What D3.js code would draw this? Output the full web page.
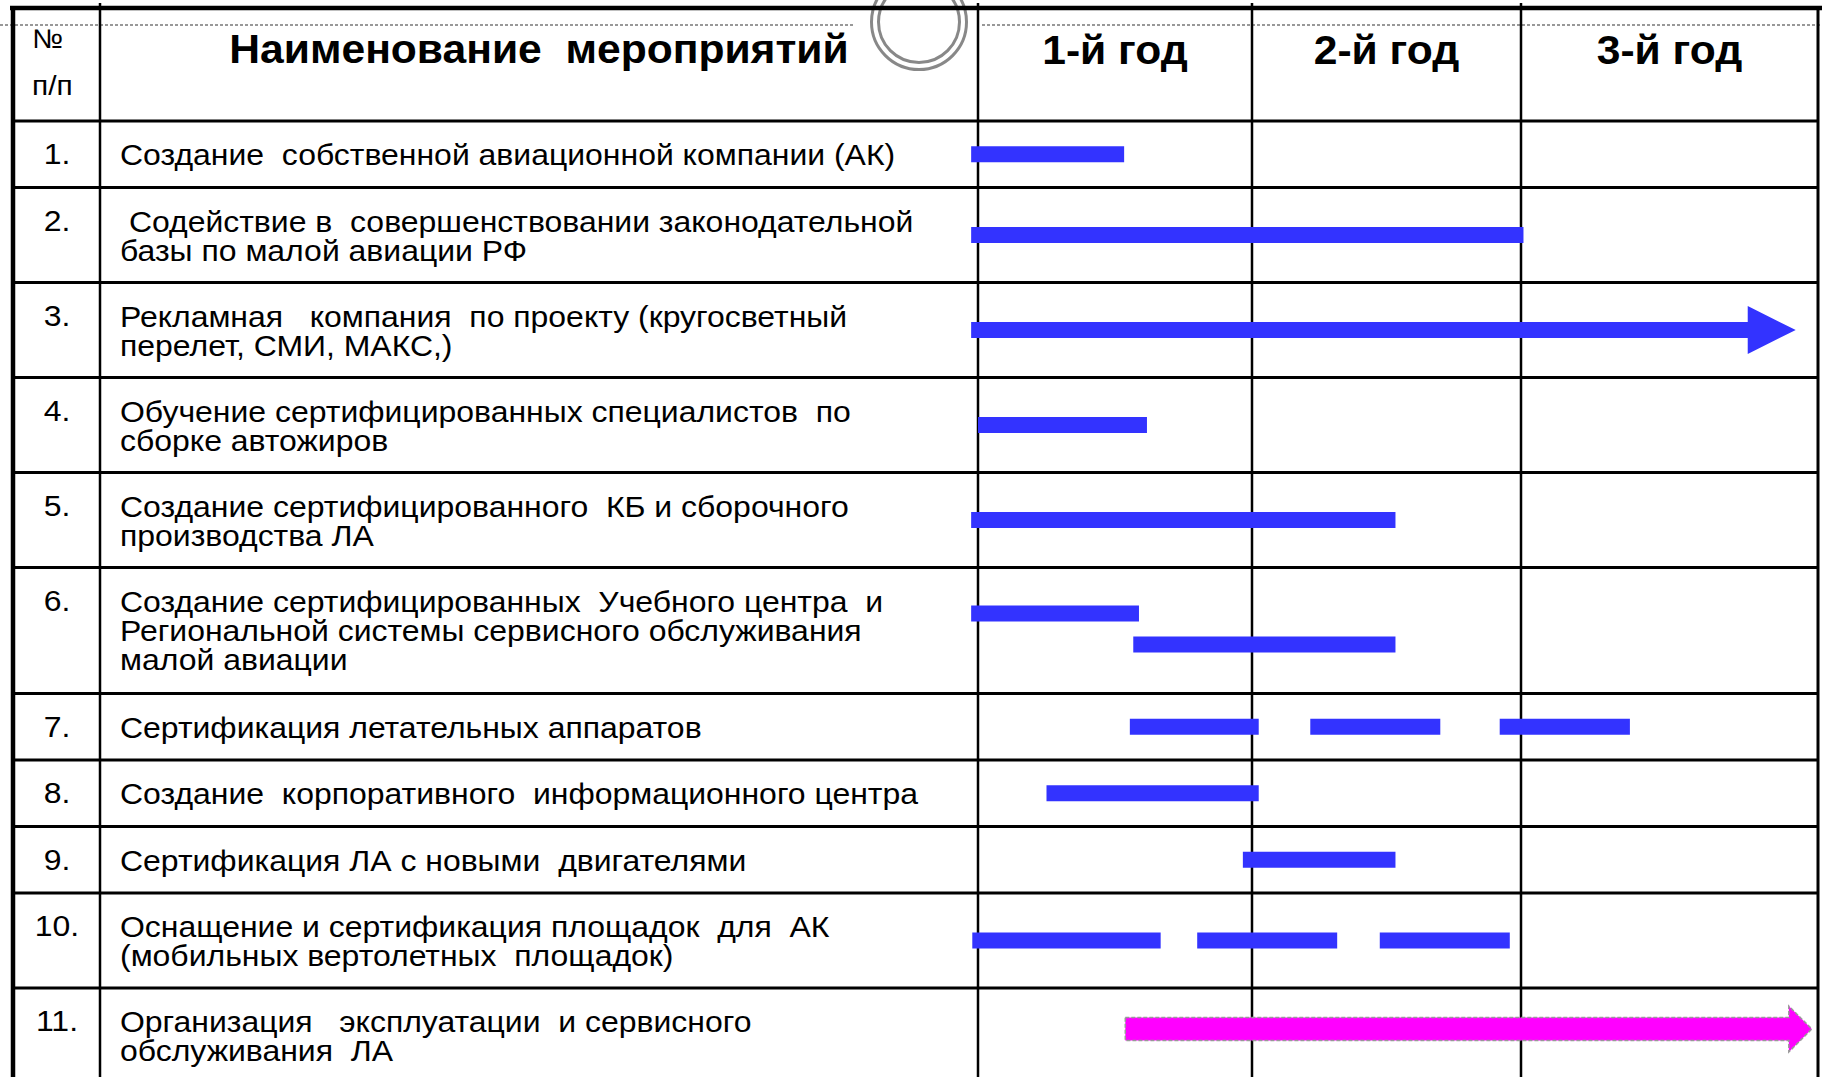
<!DOCTYPE html>
<html>
<head>
<meta charset="utf-8">
<script src="https://cdn.jsdelivr.net/npm/d3@7"></script>
<style>
	body { margin: 0; background: #fff; }
	text { font-family: "Liberation Sans", Arial, sans-serif; white-space: pre; }
</style>
</head>
<body>
<script>
// table content
var rowNums = ['1.', '2.', '3.', '4.', '5.', '6.', '7.', '8.', '9.', '10.', '11.'];
var rowLabels = [
	['Создание  собственной авиационной компании (АК)'],
	[' Содействие в  совершенствовании законодательной', 'базы по малой авиации РФ'],
	['Рекламная   компания  по проекту (кругосветный', 'перелет, СМИ, МАКС,)'],
	['Обучение сертифицированных специалистов  по', 'сборке автожиров'],
	['Создание сертифицированного  КБ и сборочного', 'производства ЛА'],
	['Создание сертифицированных  Учебного центра  и', 'Региональной системы сервисного обслуживания', 'малой авиации'],
	['Сертификация летательных аппаратов'],
	['Создание  корпоративного  информационного центра'],
	['Сертификация ЛА с новыми  двигателями'],
	['Оснащение и сертификация площадок  для  АК', '(мобильных вертолетных  площадок)'],
	['Организация   эксплуатации  и сервисного', 'обслуживания  ЛА']
];
var headNum = ['№', 'п/п'];
var headTitle = 'Наименование  мероприятий';
var yearLabels = ['1-й год', '2-й год', '3-й год'];
var yearMonths = [0, 12, 24, 36];

// tasks: row index, lane in row, start / end in months from project start
var tasks = [
	{row: 0, lane: 0, start: -0.3, end: 6.4, type: 'bar'},
	{row: 1, lane: 0, start: -0.3, end: 24.1, type: 'bar'},
	{row: 2, lane: 0, start: -0.3, end: 35.1, type: 'arrow'},
	{row: 3, lane: 0, start: 0, end: 7.4, type: 'bar'},
	{row: 4, lane: 0, start: -0.3, end: 18.4, type: 'bar'},
	{row: 5, lane: 0, start: -0.3, end: 7.05, type: 'bar'},
	{row: 5, lane: 1, start: 6.8, end: 18.4, type: 'bar'},
	{row: 6, lane: 0, start: 6.65, end: 12.3, type: 'bar'},
	{row: 6, lane: 0, start: 14.6, end: 20.4, type: 'bar'},
	{row: 6, lane: 0, start: 23.05, end: 28.4, type: 'bar'},
	{row: 7, lane: 0, start: 3.0, end: 12.3, type: 'bar'},
	{row: 8, lane: 0, start: 11.6, end: 18.4, type: 'bar'},
	{row: 9, lane: 0, start: -0.25, end: 8.0, type: 'bar'},
	{row: 9, lane: 0, start: 9.6, end: 15.8, type: 'bar'},
	{row: 9, lane: 0, start: 17.7, end: 23.5, type: 'bar'},
	{row: 10, lane: 0, start: 6.45, end: 35.75, type: 'service'}
];

var W = 1822, H = 1077;
var svg = d3.select('body')
	.append('svg')
	.attr('width', W)
	.attr('height', H);

// layout
var xLeft = 13, xNum = 100, xName = 978;
var colX = [978, 1252, 1521, 1818];
var headTop = 8, headBottom = 121;
var lineH = [0, 66.5, 95, 126];
var stretch = 1.065; // slide text is a bit wide

var x = d3.scaleLinear()
	.domain(yearMonths)
	.range(colX);

// row tops from line counts
var rowTops = [];
var acc = headBottom;
rowLabels.forEach(function(l){
	rowTops.push(acc);
	acc += lineH[l.length];
});
rowTops.push(acc);

var place = function(px, py){
	return 'translate(' + px + ',' + py + ') scale(' + stretch + ',1)';
};

// dashed guide + circle in the header
svg.selectAll('.guide')
	.data([[0, 855], [982, W]])
	.enter()
	.append('line')
	.classed('guide', true)
	.attr('x1', function(d){ return d[0]; })
	.attr('x2', function(d){ return d[1]; })
	.attr('y1', 25).attr('y2', 25)
	.style('stroke', '#777')
	.style('stroke-width', 1.5)
	.style('stroke-dasharray', '3,2');

svg.selectAll('.ring')
	.data([47.5, 40.5])
	.enter()
	.append('circle')
	.classed('ring', true)
	.attr('cx', 919).attr('cy', 22)
	.attr('r', function(d){ return d; })
	.style('fill', 'none')
	.style('stroke', '#888')
	.style('stroke-width', 3);

// GRID
// horizontal row lines
svg.selectAll('.hline')
	.data([headBottom].concat(rowTops.slice(1)))
	.enter()
	.append('line')
	.classed('hline', true)
	.attr('x1', xLeft).attr('x2', colX[3])
	.attr('y1', function(d){ return d; })
	.attr('y2', function(d){ return d; })
	.style('stroke', '#000')
	.style('stroke-width', 3);

// vertical column lines
svg.selectAll('.vline')
	.data([xNum, colX[0], colX[1], colX[2]])
	.enter()
	.append('line')
	.classed('vline', true)
	.attr('x1', function(d){ return d; })
	.attr('x2', function(d){ return d; })
	.attr('y1', 3).attr('y2', H)
	.style('stroke', '#000')
	.style('stroke-width', 2.5);

// outer border
svg.append('line')
	.attr('x1', xLeft - 3).attr('x2', W)
	.attr('y1', headTop).attr('y2', headTop)
	.style('stroke', '#000').style('stroke-width', 4.5);
svg.append('line')
	.attr('x1', xLeft).attr('x2', xLeft)
	.attr('y1', headTop).attr('y2', H)
	.style('stroke', '#000').style('stroke-width', 4.5);
svg.append('line')
	.attr('x1', colX[3]).attr('x2', colX[3])
	.attr('y1', headTop).attr('y2', H)
	.style('stroke', '#000').style('stroke-width', 3);

// HEADER text
svg.selectAll('.headnum')
	.data(headNum)
	.enter()
	.append('text')
	.classed('headnum', true)
	.attr('transform', function(d, i){ return place(32, 48 + i * 47); })
	.style('font-size', function(d, i){ return i === 0 ? '27px' : '28px'; })
	.text(function(d){ return d; });

svg.append('text')
	.attr('transform', place((xNum + xName) / 2, 63))
	.style('text-anchor', 'middle')
	.style('font-size', '40px')
	.style('font-weight', 'bold')
	.text(headTitle);

svg.selectAll('.year')
	.data(yearLabels)
	.enter()
	.append('text')
	.classed('year', true)
	.attr('transform', function(d, i){ return place((colX[i] + colX[i + 1]) / 2, 64); })
	.style('text-anchor', 'middle')
	.style('font-size', '40px')
	.style('font-weight', 'bold')
	.text(function(d){ return d; });

// ROW text
svg.selectAll('.num')
	.data(rowNums)
	.enter()
	.append('text')
	.classed('num', true)
	.attr('transform', function(d, i){ return place((xLeft + xNum) / 2 + 0.5, rowTops[i] + 43); })
	.style('text-anchor', 'middle')
	.style('font-size', '30px')
	.text(function(d){ return d; });

var labels = svg.selectAll('.label')
	.data(rowLabels)
	.enter()
	.append('text')
	.classed('label', true)
	.attr('transform', function(d, i){ return place(120, rowTops[i] + 44); })
	.style('font-size', '30px');
labels.selectAll('tspan')
	.data(function(d){ return d; })
	.enter()
	.append('tspan')
	.attr('x', 0)
	.attr('dy', function(d, i){ return i === 0 ? 0 : 29.5; })
	.text(function(d){ return d; });

// BARS
var rowLanes = {};
tasks.forEach(function(t){
	rowLanes[t.row] = Math.max(rowLanes[t.row] || 0, t.lane + 1);
});
var barY = function(d){
	var mid = (rowTops[d.row] + rowTops[d.row + 1]) / 2;
	if(d.row === rowLabels.length - 1) mid = rowTops[d.row] + 41;
	if(rowLanes[d.row] > 1) return mid - 17 + d.lane * 31;
	return mid;
};

var shapePath = function(d){
	var x0 = x(d.start), x1 = x(d.end), y = barY(d);
	var h, hh, hl;
	if(d.type === 'bar') {
		return 'M' + x0 + ',' + (y - 8) + 'H' + x1 + 'V' + (y + 8) + 'H' + x0 + 'Z';
	}
	if(d.type === 'arrow') { h = 8; hh = 24; hl = 48; }
	else { h = 11.5; hh = 23; hl = 23; }
	return 'M' + x0 + ',' + (y - h) +
		'H' + (x1 - hl) + 'V' + (y - hh) +
		'L' + x1 + ',' + y +
		'L' + (x1 - hl) + ',' + (y + hh) +
		'V' + (y + h) + 'H' + x0 + 'Z';
};

svg.selectAll('.task')
	.data(tasks)
	.enter()
	.append('path')
	.classed('task', true)
	.attr('d', shapePath)
	.style('fill', function(d){ return d.type === 'service' ? '#ff00ff' : '#3333ff'; })
	.style('stroke', function(d){ return d.type === 'service' ? '#999' : 'none'; })
	.style('stroke-width', 1.5)
	.style('stroke-dasharray', function(d){ return d.type === 'service' ? '4,2' : null; });
</script>
</body>
</html>
